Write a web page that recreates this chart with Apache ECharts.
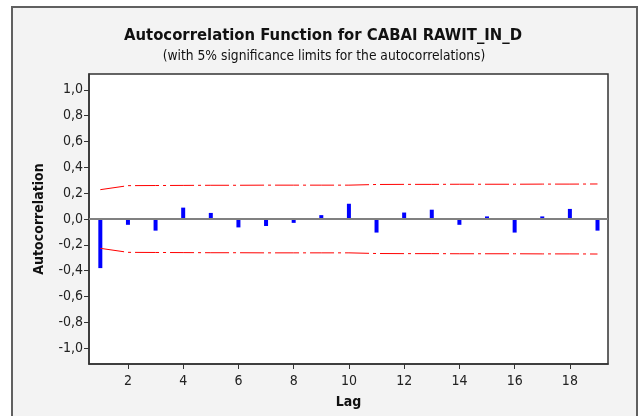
<!DOCTYPE html>
<html>
<head>
<meta charset="utf-8">
<script src="https://cdn.jsdelivr.net/npm/echarts@6/dist/echarts.min.js"></script>
<style>html,body{margin:0;padding:0;background:#fff}#c{width:640px;height:416px}</style>
</head>
<body>
<div id="c"></div>
<script>
const lags = [1,2,3,4,5,6,7,8,9,10,11,12,13,14,15,16,17,18,19];
const acf = [-0.38,-0.045,-0.09,0.088,0.047,-0.065,-0.054,-0.03,0.03,0.118,-0.105,0.05,0.072,-0.045,0.02,-0.105,0.02,0.078,-0.09];
const upperLimit = [0.227,0.258,0.259,0.260,0.261,0.261,0.262,0.262,0.262,0.262,0.267,0.268,0.268,0.269,0.269,0.269,0.270,0.270,0.271];
const lowerLimit = upperLimit.map(v => -v);
const xTicks = [2,4,6,8,10,12,14,16,18];
const yTicks = [-1.0,-0.8,-0.6,-0.4,-0.2,0.0,0.2,0.4,0.6,0.8,1.0];
const titleText = 'Autocorrelation Function for CABAI RAWIT_IN_D';
const subtitleText = '(with 5% significance limits for the autocorrelations)';

const font = 'DejaVu Sans Condensed, DejaVu Sans, sans-serif';
const chart = echarts.init(document.getElementById('c'), null, {renderer: 'canvas'});
chart.setOption({
  backgroundColor: '#ffffff',
  animation: false,
  graphic: [{
    type: 'rect', z: -100, silent: true,
    shape: {x: 12, y: 7, width: 625, height: 430},
    style: {fill: '#f3f3f3', stroke: '#606060', lineWidth: 2}
  }],
  title: [{
    text: titleText,
    left: 318, top: 22, textAlign: 'center',
    textStyle: {fontFamily: font, fontWeight: 'bold', fontSize: 16.5, color: '#111'}
  }, {
    text: subtitleText,
    left: 319, top: 44, textAlign: 'center',
    textStyle: {fontFamily: font, fontWeight: 'normal', fontSize: 13.7, color: '#111'}
  }],
  grid: {left: 89, right: 32, top: 74, bottom: 52, show: true, backgroundColor: '#ffffff', borderColor: '#333', borderWidth: 1.5, containLabel: false},
  xAxis: {
    type: 'value', min: 0.59, max: 19.38,
    name: 'Lag', nameLocation: 'middle', nameGap: 31,
    nameTextStyle: {fontFamily: font, fontWeight: 'bold', fontSize: 14, color: '#111'},
    axisLine: {show: true, onZero: false, lineStyle: {color: '#333', width: 1.5}},
    axisTick: {show: true, customValues: xTicks, length: 5, lineStyle: {color: '#333'}},
    axisLabel: {customValues: xTicks, fontFamily: font, fontSize: 14, color: '#222', margin: 10},
    splitLine: {show: false}
  },
  yAxis: {
    type: 'value', min: -1.122, max: 1.122,
    name: 'Autocorrelation', nameLocation: 'middle', nameGap: 43,
    nameTextStyle: {fontFamily: font, fontWeight: 'bold', fontSize: 14, color: '#111'},
    axisLine: {show: true, lineStyle: {color: '#333', width: 1.5}},
    axisTick: {show: true, customValues: yTicks, length: 5, lineStyle: {color: '#333'}},
    axisLabel: {customValues: yTicks, fontFamily: font, fontSize: 14, color: '#222', margin: 6,
      formatter: v => v.toFixed(1).replace('.', ',')},
    splitLine: {show: false}
  },
  series: [{
    type: 'bar', barWidth: 4,
    data: lags.map((l, i) => [l, acf[i]]),
    itemStyle: {color: '#0000ff'},
    markLine: {
      silent: true, symbol: 'none', label: {show: false},
      lineStyle: {color: '#808080', width: 2, type: 'solid'},
      data: [{yAxis: 0}]
    },
    z: 3
  }, {
    type: 'line', symbol: 'none',
    data: lags.map((l, i) => [l, upperLimit[i]]),
    lineStyle: {color: '#ff0000', width: 1, type: [24, 4, 3, 4]}
  }, {
    type: 'line', symbol: 'none',
    data: lags.map((l, i) => [l, lowerLimit[i]]),
    lineStyle: {color: '#ff0000', width: 1, type: [24, 4, 3, 4]}
  }]
});
</script>
</body>
</html>
